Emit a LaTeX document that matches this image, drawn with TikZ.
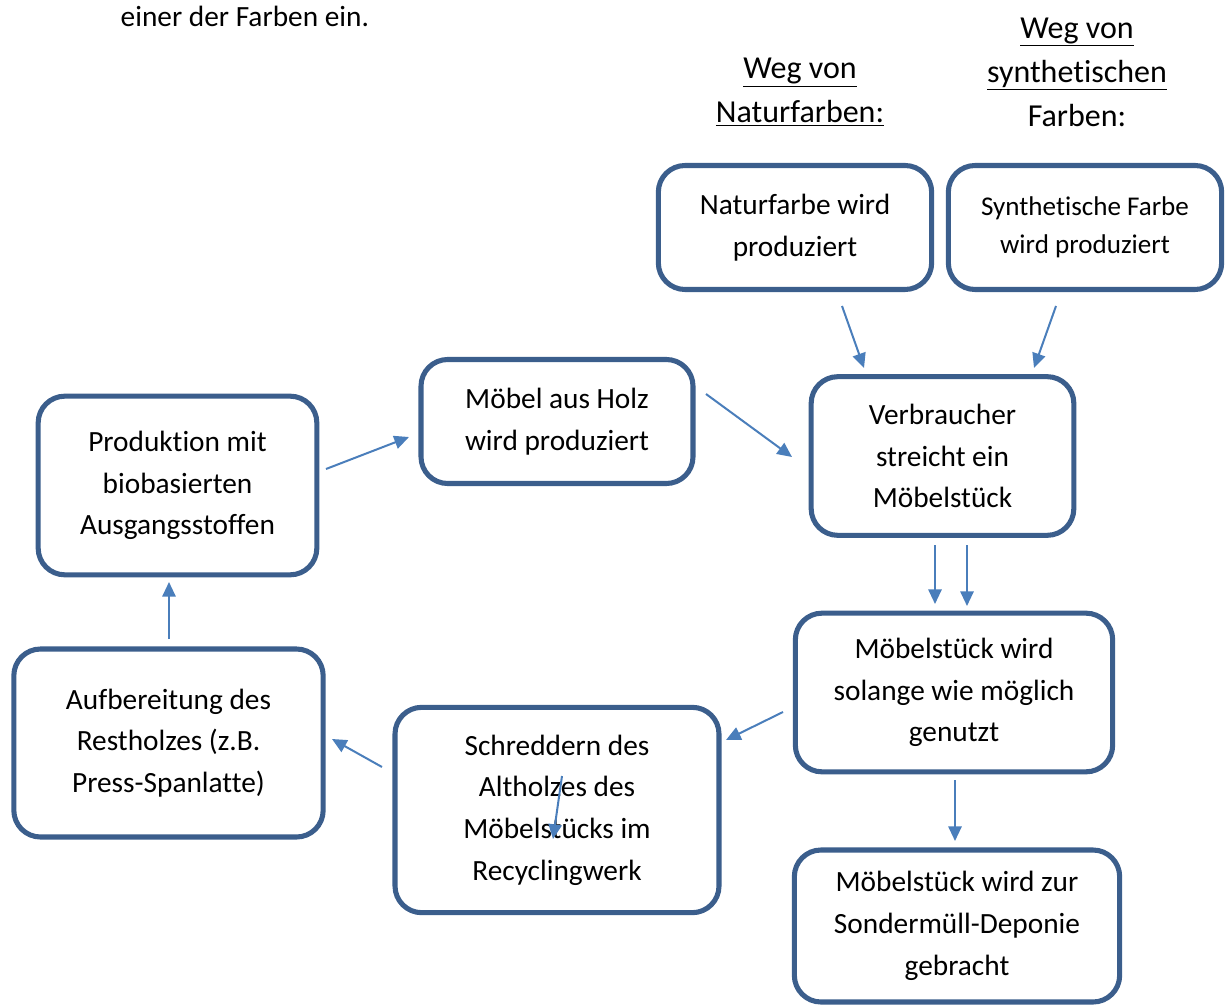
\documentclass[tikz,border=0pt]{standalone}
\usepackage{fontspec}
\setmainfont[Ligatures={NoCommon}]{Carlito}
\usetikzlibrary{arrows.meta}
\definecolor{boxc}{HTML}{3B5E8C}
\definecolor{arrc}{HTML}{4A7EBB}
\begin{document}
\begin{tikzpicture}[x=0.75pt,y=-0.75pt,
  box/.style={draw=boxc,line width=3.8pt,rounded corners=20pt,align=center,inner sep=0pt,
    font=\fontsize{22}{31.3}\selectfont},
  arr/.style={draw=arrc,line width=1.5pt,-{Triangle[length=11pt,width=10pt]}},
  hdr/.style={align=center,font=\fontsize{24}{33}\selectfont}]
\useasboundingbox (0,0) rectangle (1227,1005);
\node[anchor=base west,font=\fontsize{22}{24}\selectfont] (top) at (116,27) {einer der Farben ein.};
\node[hdr] (h1) at (800,92) {\underline{Weg von}\\\underline{Naturfarben:}};
\node[hdr] (h2) at (1077,72) {\underline{Weg von}\\\underline{synthetischen}\\Farben:};
\node[box,minimum width=205pt,minimum height=93pt] (nat) at (795,227.5) {Naturfarbe wird\\produziert};
\node[box,minimum width=205pt,minimum height=93pt,font=\fontsize{20.3}{28.5}\selectfont] (syn) at (1085,227.5) {Synthetische Farbe\\wird produziert};
\node[box,minimum width=197pt,minimum height=119pt] (ver) at (942.5,456) {Verbraucher\\streicht ein\\Möbelstück};
\node[box,minimum width=204pt,minimum height=93pt] (holz) at (557,421.5) {Möbel aus Holz\\wird produziert};
\node[box,minimum width=209pt,minimum height=134pt] (prod) at (177.5,485.5) {Produktion mit\\biobasierten\\Ausgangsstoffen};
\node[box,minimum width=238pt,minimum height=119pt] (gen) at (954,692.5) {Möbelstück wird\\solange wie möglich\\genutzt};
\node[box,minimum width=244pt,minimum height=114pt] (sond) at (957,926) {Möbelstück wird zur\\Sondermüll-Deponie\\gebracht};
\node[box,minimum width=243pt,minimum height=154pt] (schr) at (557,810) {Schreddern des\\Altholzes des\\Möbelstücks im\\Recyclingwerk};
\node[box,minimum width=232pt,minimum height=141pt] (auf) at (168.5,743) {Aufbereitung des\\Restholzes (z.B.\\Press-Spanlatte)};
\coordinate (a1s) at (842,306); \coordinate (a1e) at (864,368);
\coordinate (a2s) at (1056,306); \coordinate (a2e) at (1034,368);
\coordinate (a3s) at (706,394); \coordinate (a3e) at (792,457);
\coordinate (a4s) at (326,469); \coordinate (a4e) at (409,437);
\coordinate (a5s) at (935,545); \coordinate (a5e) at (935,604);
\coordinate (a6s) at (967,545); \coordinate (a6e) at (967,606);
\coordinate (a7s) at (783,712); \coordinate (a7e) at (726,740);
\coordinate (a8s) at (382,767); \coordinate (a8e) at (332,739);
\coordinate (a9s) at (169,639); \coordinate (a9e) at (169,582);
\coordinate (a10s) at (955,780); \coordinate (a10e) at (955,841);
\coordinate (a11s) at (562,776); \coordinate (a11e) at (553,839);
\foreach \i in {1,...,11} {\draw[arr] (a\i s) -- (a\i e);}
\end{tikzpicture}
\end{document}
